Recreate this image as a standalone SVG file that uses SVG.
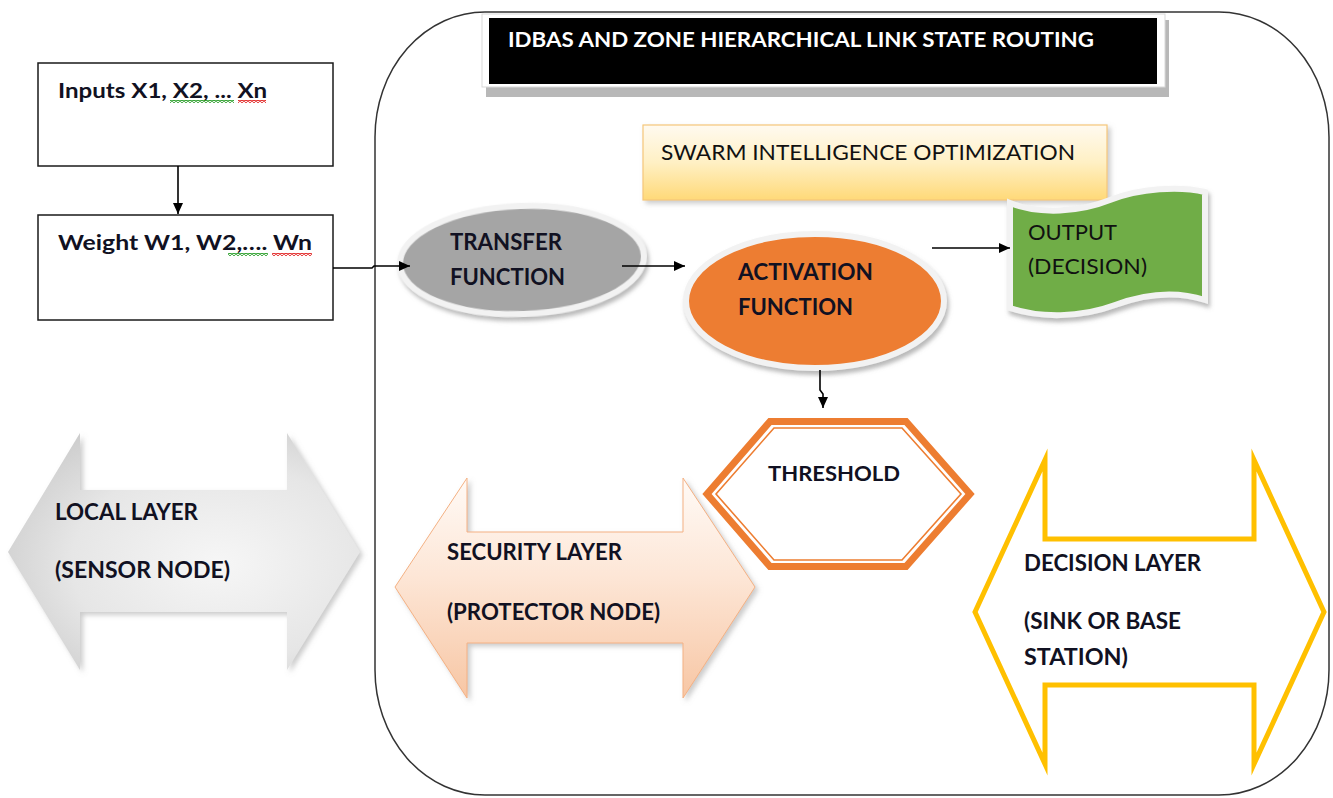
<svg xmlns="http://www.w3.org/2000/svg" width="1333" height="798" viewBox="0 0 1333 798">
  <style>
    .lbl { font-family: Lato, "Liberation Sans", sans-serif; font-weight: 700; fill: #111122; }
    .reg { font-family: Lato, "Liberation Sans", sans-serif; font-weight: 400; fill: #111111; }
    .box { fill: #ffffff; stroke: #1a1a1a; stroke-width: 1.5; }
    .conn { fill: none; stroke: #000; stroke-width: 1.6; }
  </style>
  <defs>
    <marker id="ah" markerUnits="userSpaceOnUse" markerWidth="12" markerHeight="10" refX="11" refY="5" orient="auto">
      <path d="M0,0 L11,5 L0,10 Z" fill="#000"/>
    </marker>
    <filter id="shadow" x="-10%" y="-10%" width="130%" height="140%">
      <feDropShadow dx="2" dy="4" stdDeviation="2" flood-color="#7f7f7f" flood-opacity="0.55"/>
    </filter>
    <filter id="shadowSoft" x="-10%" y="-10%" width="130%" height="140%">
      <feDropShadow dx="3" dy="3" stdDeviation="2.5" flood-color="#9a9a9a" flood-opacity="0.5"/>
    </filter>
    <radialGradient id="gGray" cx="0.6" cy="0.55" r="0.7">
      <stop offset="0" stop-color="#f6f6f6"/>
      <stop offset="0.6" stop-color="#e6e6e6"/>
      <stop offset="1" stop-color="#cacaca"/>
    </radialGradient>
    <linearGradient id="gPeach" x1="0" y1="0" x2="0" y2="1">
      <stop offset="0" stop-color="#fffaf6"/>
      <stop offset="0.45" stop-color="#fde6d6"/>
      <stop offset="1" stop-color="#f7c6a4"/>
    </linearGradient>
    <linearGradient id="gSwarm" x1="0" y1="0" x2="0" y2="1">
      <stop offset="0" stop-color="#fffaf0"/>
      <stop offset="0.5" stop-color="#fff0c4"/>
      <stop offset="1" stop-color="#ffd978"/>
    </linearGradient>
    <pattern id="sqG" width="4" height="3" patternUnits="userSpaceOnUse">
      <path d="M0,2.5 L2,0.5 L4,2.5" fill="none" stroke="#1f9a1f" stroke-width="1.2"/>
    </pattern>
    <pattern id="sqR" width="4" height="3" patternUnits="userSpaceOnUse">
      <path d="M0,2.5 L2,0.5 L4,2.5" fill="none" stroke="#e01818" stroke-width="1.2"/>
    </pattern>
  </defs>

  <rect width="1333" height="798" fill="#ffffff"/>

  <!-- outer rounded frame -->
  <g id="frame">
    <path d="M485,12 H1219 A110,125 0 0 1 1329,137 V670 A110,125 0 0 1 1219,795 H485 A110,125 0 0 1 375,670 V137 A110,125 0 0 1 485,12 Z" fill="none" stroke="#333" stroke-width="1.5"/>
  </g>

  <!-- title banner -->
  <g id="title">
    <rect x="486" y="20" width="683" height="77" fill="#a6a6a6" opacity="0.8"/>
    <rect x="482" y="14" width="683" height="73" fill="#ffffff" stroke="#d9d9d9" stroke-width="1"/>
    <rect x="489" y="18" width="668" height="66" fill="#000000"/>
    <text x="508" y="47" font-family="Lato, 'Liberation Sans', sans-serif" font-weight="700" font-size="20" fill="#ffffff" textLength="586" lengthAdjust="spacingAndGlyphs">IDBAS AND ZONE HIERARCHICAL LINK STATE ROUTING</text>
  </g>

  <!-- input box -->
  <g id="inputs">
    <rect class="box" x="38" y="63" width="295" height="103"/>
    <text class="lbl" x="58" y="98" font-size="21" textLength="209" lengthAdjust="spacingAndGlyphs">Inputs X1, X2, ... Xn</text>
    <rect x="170" y="100" width="64" height="3" fill="url(#sqG)"/>
    <rect x="238" y="100" width="28" height="3" fill="url(#sqR)"/>
  </g>

  <!-- weight box -->
  <g id="weights">
    <rect class="box" x="38" y="215" width="295" height="105"/>
    <text class="lbl" x="58" y="250" font-size="21" textLength="254" lengthAdjust="spacingAndGlyphs">Weight W1, W2,…. Wn</text>
    <rect x="228" y="253" width="40" height="3" fill="url(#sqG)"/>
    <rect x="272" y="253" width="40" height="3" fill="url(#sqR)"/>
  </g>

  <!-- swarm intelligence box -->
  <g id="swarm">
    <rect x="643" y="125" width="464" height="75" fill="url(#gSwarm)" stroke="#f5c77a" stroke-width="1.2" filter="url(#shadowSoft)"/>
    <text class="reg" x="661" y="160" font-size="21" textLength="414" lengthAdjust="spacingAndGlyphs">SWARM INTELLIGENCE OPTIMIZATION</text>
  </g>

  <!-- transfer function -->
  <g id="transfer">
    <ellipse cx="522" cy="260" rx="122" ry="54" fill="#a5a5a5" stroke="#f2f2f2" stroke-width="6" filter="url(#shadow)" transform="rotate(-2 522 260)"/>
    <text class="lbl" x="450" y="250" font-size="23" textLength="112" lengthAdjust="spacingAndGlyphs">TRANSFER</text>
    <text class="lbl" x="450" y="285" font-size="23" textLength="115" lengthAdjust="spacingAndGlyphs">FUNCTION</text>
  </g>

  <!-- activation function -->
  <g id="activation">
    <ellipse cx="815" cy="301" rx="129" ry="67" fill="#ed7d31" stroke="#f2f2f2" stroke-width="6" filter="url(#shadow)"/>
    <text class="lbl" x="738" y="280" font-size="23" textLength="135" lengthAdjust="spacingAndGlyphs">ACTIVATION</text>
    <text class="lbl" x="738" y="315" font-size="23" textLength="115" lengthAdjust="spacingAndGlyphs">FUNCTION</text>
  </g>

  <!-- output (decision) -->
  <g id="output">
    <path d="M1010,203 C1040,215 1080,212 1110,200 C1140,188 1180,186 1205,192 L1205,300 C1180,292 1150,292 1115,305 C1080,318 1040,318 1010,308 Z" fill="#70ad47" stroke="#f2f2f2" stroke-width="6" filter="url(#shadow)"/>
    <text class="reg" x="1028" y="240" font-size="22" textLength="89" lengthAdjust="spacingAndGlyphs">OUTPUT</text>
    <text class="reg" x="1028" y="274" font-size="22" textLength="119" lengthAdjust="spacingAndGlyphs">(DECISION)</text>
  </g>

  <!-- threshold -->
  <g id="threshold">
    <polygon points="707,494 770,421.5 906,421.5 970,494 906,566.5 770,566.5" fill="#ffffff" stroke="#ed7d31" stroke-width="7" stroke-linejoin="miter"/>
    <polygon points="716,494 774,428 902,428 961,494 902,560 774,560" fill="none" stroke="#ed7d31" stroke-width="1.6"/>
    <text class="lbl" x="768" y="481" font-size="21" textLength="132" lengthAdjust="spacingAndGlyphs">THRESHOLD</text>
  </g>

  <!-- local layer -->
  <g id="local-layer">
    <path d="M8,552 L80,433 V490 H287 V433 L360,552 L287,670 V612 H80 V670 Z" fill="url(#gGray)" filter="url(#shadowSoft)"/>
    <text class="lbl" x="55" y="520" font-size="22" textLength="143" lengthAdjust="spacingAndGlyphs">LOCAL LAYER</text>
    <text class="lbl" x="55" y="578" font-size="22" textLength="175" lengthAdjust="spacingAndGlyphs">(SENSOR NODE)</text>
  </g>

  <!-- security layer -->
  <g id="security-layer">
    <path d="M395,587 L467,478 V532 H683 V478 L755,587 L683,698 V643 H467 V698 Z" fill="url(#gPeach)" stroke="#f4b183" stroke-width="1" filter="url(#shadowSoft)"/>
    <text class="lbl" x="447" y="560" font-size="22" textLength="175" lengthAdjust="spacingAndGlyphs">SECURITY LAYER</text>
    <text class="lbl" x="447" y="620" font-size="22" textLength="213" lengthAdjust="spacingAndGlyphs">(PROTECTOR NODE)</text>
  </g>

  <!-- decision layer -->
  <g id="decision-layer">
    <path d="M975,612 L1045,460 V539 H1254 V460 L1324,612 L1254,764 V685 H1045 V764 Z" fill="#ffffff" stroke="#ffc000" stroke-width="5" stroke-linejoin="miter" stroke-miterlimit="10"/>
    <text class="lbl" x="1024" y="571" font-size="22" textLength="177" lengthAdjust="spacingAndGlyphs">DECISION LAYER</text>
    <text class="lbl" x="1024" y="629" font-size="22" textLength="157" lengthAdjust="spacingAndGlyphs">(SINK OR BASE</text>
    <text class="lbl" x="1024" y="665" font-size="22" textLength="104" lengthAdjust="spacingAndGlyphs">STATION)</text>
  </g>

  <!-- connectors -->
  <g id="connectors">
    <path class="conn" d="M178,166 V214" marker-end="url(#ah)"/>
    <path class="conn" d="M333,268 H372 L374,266 H410" marker-end="url(#ah)"/>
    <path class="conn" d="M622,266 H685" marker-end="url(#ah)"/>
    <path class="conn" d="M932,248 H1010" marker-end="url(#ah)"/>
    <path class="conn" d="M820,370 V390 L823,394 V408" marker-end="url(#ah)"/>
  </g>
</svg>
